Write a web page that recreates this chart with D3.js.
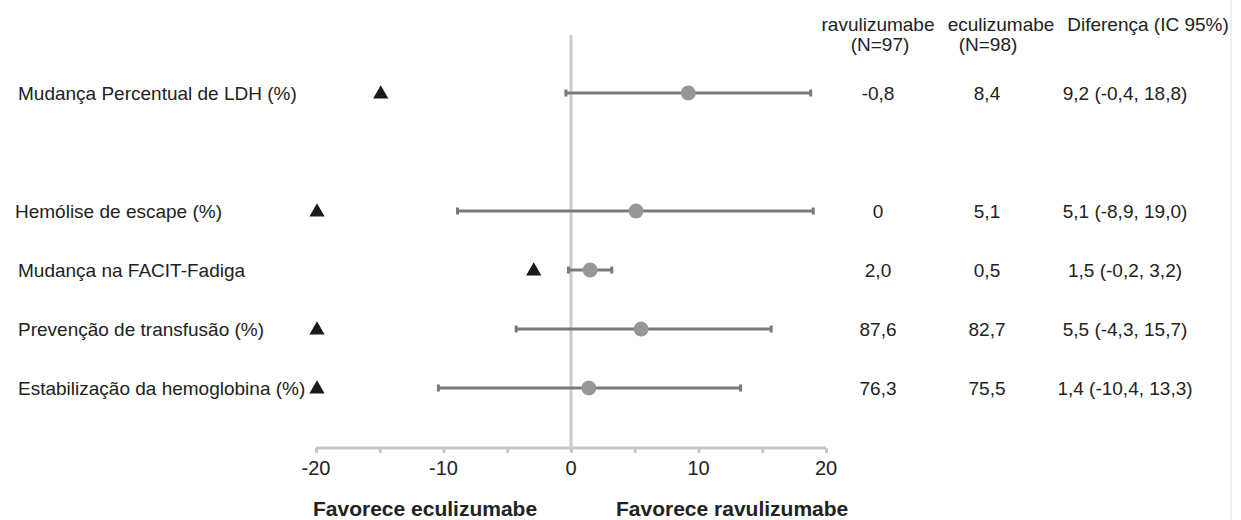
<!DOCTYPE html>
<html>
<head>
<meta charset="utf-8">
<script src="https://cdn.jsdelivr.net/npm/d3@7"></script>
<style>
  body { margin: 0; background: #fff; }
  svg { font-family: "Liberation Sans", Arial, sans-serif; }
</style>
</head>
<body>
<svg id="chart" width="1241" height="520"></svg>
<script>
// chart values
const outcomes = ['Mudança Percentual de LDH (%)', 'Hemólise de escape (%)', 'Mudança na FACIT-Fadiga',
  'Prevenção de transfusão (%)', 'Estabilização da hemoglobina (%)'];
const rowPos = [0, 2, 3, 4, 5];
const diffs = [9.2, 5.1, 1.5, 5.5, 1.4];
const ciLow = [-0.4, -8.9, -0.2, -4.3, -10.4];
const ciHigh = [18.8, 19.0, 3.2, 15.7, 13.3];
const triangleAt = [-15, -20, -3, -20, -20];
const ravuValues = ['-0,8', '0', '2,0', '87,6', '76,3'];
const ecuValues = ['8,4', '5,1', '0,5', '82,7', '75,5'];
const diffLabels = ['9,2 (-0,4, 18,8)', '5,1 (-8,9, 19,0)', '1,5 (-0,2, 3,2)', '5,5 (-4,3, 15,7)', '1,4 (-10,4, 13,3)'];
const xTicks = [-20, -10, 0, 10, 20];
const minorTicks = [-15, -5, 5, 15];

const svg = d3.select('svg#chart');

const x = d3.scaleLinear().domain([-20, 20]).range([316, 826]);
const y = d3.scaleLinear().domain([0, 5]).range([93, 388]);
const AXIS_Y = 448;

// faint right border
svg.append('line')
  .attr('x1', 1231).attr('x2', 1231).attr('y1', 0).attr('y2', 520)
  .attr('stroke', '#efefef').attr('stroke-width', 2);

// zero line
svg.append('line')
  .attr('x1', x(0)).attr('x2', x(0)).attr('y1', 35).attr('y2', AXIS_Y)
  .attr('stroke', '#cbcbcb').attr('stroke-width', 3);

// x axis, ticks hang below the line
const axis = svg.append('g')
  .attr('transform', `translate(0,${AXIS_Y})`)
  .call(d3.axisBottom(x).tickValues(xTicks.concat(minorTicks)).tickSize(5).tickFormat(''));
axis.select('.domain').attr('stroke', '#c8c8c8').attr('stroke-width', 3)
  .attr('d', `M${x(-20)},0H${x(20)}`);
axis.selectAll('.tick line').attr('stroke', '#c8c8c8').attr('stroke-width', 3);

svg.selectAll('text.tick-label')
  .data(xTicks)
  .enter()
  .append('text')
  .attr('class', 'tick-label')
  .attr('x', (d) => x(d))
  .attr('y', 475)
  .attr('text-anchor', 'middle')
  .attr('font-size', '20px')
  .attr('fill', '#222')
  .text((d) => d);

svg.append('text')
  .attr('x', 313).attr('y', 516)
  .attr('font-size', '21px').attr('font-weight', 'bold').attr('fill', '#222')
  .text('Favorece eculizumabe');
svg.append('text')
  .attr('x', 616).attr('y', 516)
  .attr('font-size', '21px').attr('font-weight', 'bold').attr('fill', '#222')
  .text('Favorece ravulizumabe');

// row labels
svg.selectAll('text.outcome')
  .data(outcomes)
  .enter()
  .append('text')
  .attr('class', 'outcome')
  .attr('x', (d, i) => (i === 1 ? 15 : 18))
  .attr('y', (d, i) => y(rowPos[i]))
  .attr('dy', '0.35em')
  .attr('font-size', '19px')
  .attr('fill', '#222')
  .text((d) => d);

// triangles
svg.selectAll('path.tri')
  .data(triangleAt)
  .enter()
  .append('path')
  .attr('class', 'tri')
  .attr('d', d3.symbol().type(d3.symbolTriangle).size(100))
  .attr('transform', (d, i) => `translate(${x(d) + 1},${y(rowPos[i]) + 1})`)
  .attr('fill', '#1a1a1a');

// confidence intervals
svg.selectAll('line.ci')
  .data(diffs)
  .enter()
  .append('line')
  .attr('class', 'ci')
  .attr('x1', (d, i) => x(ciLow[i]))
  .attr('x2', (d, i) => x(ciHigh[i]))
  .attr('y1', (d, i) => y(rowPos[i]))
  .attr('y2', (d, i) => y(rowPos[i]))
  .attr('stroke', '#7a7a7a')
  .attr('stroke-width', 3);

['low', 'high'].forEach((end) => {
  const vals = end === 'low' ? ciLow : ciHigh;
  svg.selectAll(`line.cap-${end}`)
    .data(vals)
    .enter()
    .append('line')
    .attr('class', `cap-${end}`)
    .attr('x1', (d) => x(d))
    .attr('x2', (d) => x(d))
    .attr('y1', (d, i) => y(rowPos[i]) - 3.5)
    .attr('y2', (d, i) => y(rowPos[i]) + 3.5)
    .attr('stroke', '#7a7a7a')
    .attr('stroke-width', 3);
});

svg.selectAll('circle.est')
  .data(diffs)
  .enter()
  .append('circle')
  .attr('class', 'est')
  .attr('cx', (d) => x(d))
  .attr('cy', (d, i) => y(rowPos[i]))
  .attr('r', 7.5)
  .attr('fill', '#979797');

// column headers
const headers = [
  { text: 'ravulizumabe', cx: 878, cy: 24 },
  { text: '(N=97)', cx: 880, cy: 44 },
  { text: 'eculizumabe', cx: 1001, cy: 24 },
  { text: '(N=98)', cx: 988, cy: 44 },
  { text: 'Diferença (IC 95%)', cx: 1148, cy: 24 }
];
svg.selectAll('text.header')
  .data(headers)
  .enter()
  .append('text')
  .attr('class', 'header')
  .attr('x', (d) => d.cx)
  .attr('y', (d) => d.cy)
  .attr('dy', '0.35em')
  .attr('text-anchor', 'middle')
  .attr('font-size', '19px')
  .attr('fill', '#222')
  .text((d) => d.text);

const columns = [
  { vals: ravuValues, cx: 878 },
  { vals: ecuValues, cx: 987 },
  { vals: diffLabels, cx: 1125 }
];
columns.forEach((col, c) => {
  svg.selectAll(`text.col${c}`)
    .data(col.vals)
    .enter()
    .append('text')
    .attr('class', `col${c}`)
    .attr('x', col.cx)
    .attr('y', (d, i) => y(rowPos[i]))
    .attr('dy', '0.35em')
    .attr('text-anchor', 'middle')
    .attr('font-size', '19px')
    .attr('fill', '#222')
    .text((d) => d);
});
</script>
</body>
</html>
